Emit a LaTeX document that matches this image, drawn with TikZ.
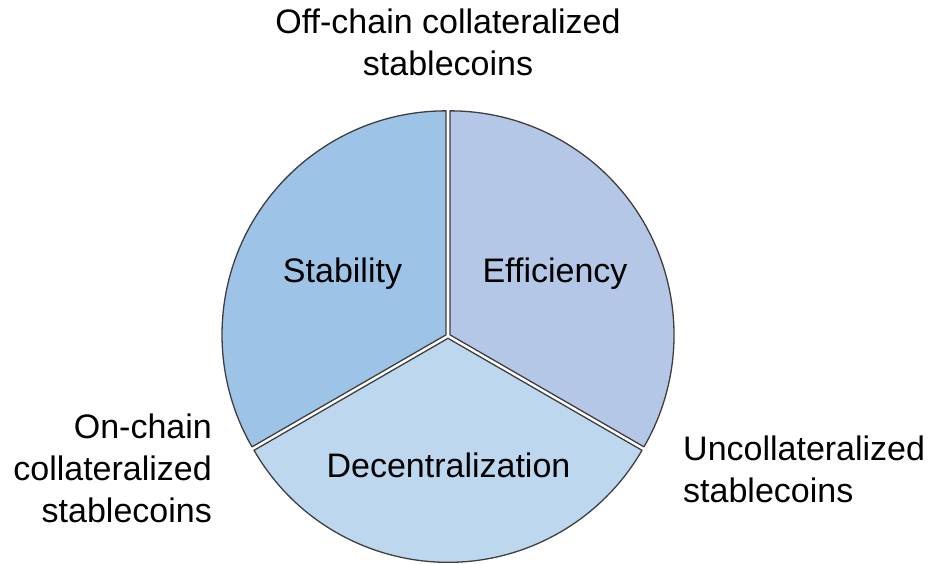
\documentclass[tikz,border=0pt]{standalone}
\usepackage{fontspec}
\setmainfont{Liberation Sans}
\definecolor{stabfill}{HTML}{9DC3E6}
\definecolor{efffill}{HTML}{B4C7E7}
\definecolor{decfill}{HTML}{BDD7EE}
\definecolor{edge}{HTML}{3F3F3F}
\begin{document}
\begin{tikzpicture}[x=1pt,y=1pt,
  sector/.style={draw=edge, line width=1.3pt, line join=round},
  lbl/.style={inner sep=0pt, font=\fontsize{34}{42}\selectfont, text=black}]
\useasboundingbox (0,0) rectangle (931,563);
% three pie sectors, each pushed slightly outward along its bisector
\begin{scope}[shift={(448,227)}]
  \foreach \a/\b/\c in {90/210/stabfill, -30/90/efffill, 210/330/decfill}
    \draw[sector, fill=\c, shift={({(\a+\b)/2}:2.3)}]
      (0,0) -- (\a:224) arc[start angle=\a, end angle=\b, radius=224] -- cycle;
\end{scope}
% sector labels
\node[lbl, anchor=base] (stab) at (342.5,280) {Stability};
\node[lbl, anchor=base] (eff) at (555,280) {Efficiency};
\node[lbl, anchor=base] (dec) at (448.5,86) {Decentralization};
% outer labels (base anchor sits on the last line)
\node[lbl, anchor=base, align=center] (off) at (448,487) {Off-chain collateralized\\stablecoins};
\node[lbl, anchor=base east, align=right] (on) at (212,41) {On-chain\\collateralized\\stablecoins};
\node[lbl, anchor=base west, align=left] (unc) at (683,61) {Uncollateralized\\stablecoins};
\end{tikzpicture}
\end{document}
